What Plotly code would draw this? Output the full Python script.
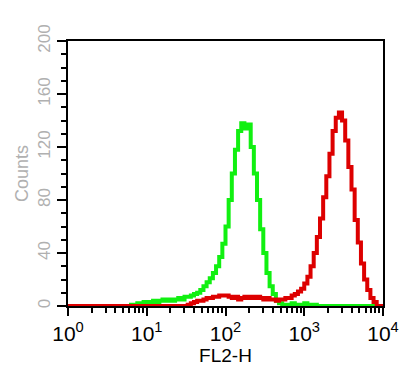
import plotly.graph_objects as go

# channel positions: 25 channels per decade over 4 decades (log10 units)
channel_log = [i / 25 for i in range(101)]

green_counts = [0]*20 + [
    1, 1, 2, 2, 3, 3, 3, 4, 3, 4,
    5, 4, 5, 4, 5, 6, 5, 7, 7, 8,
    9, 10, 12, 15, 18, 21, 25, 30, 37, 47,
    60, 80, 100, 118, 132, 138, 134, 137, 120, 100,
    80, 58, 40, 25, 15, 9, 4, 2, 1, 1,
    1, 2, 1, 1, 1, 2, 1, 1, 1] + [0]*22

red_counts = [0]*38 + [
    1, 2, 3, 4, 4, 5, 6, 6, 7, 7,
    8, 8, 8, 7, 6, 7, 5, 6, 7, 6,
    7, 6, 7, 6, 5, 6, 5, 5, 4, 5,
    5, 6, 6, 8, 9, 11, 13, 17, 22, 30,
    40, 52, 66, 82, 98, 115, 132, 142, 146, 140,
    125, 105, 88, 65, 48, 32, 20, 12, 6, 3,
    0, 0, 0]

x_tick_vals = [1, 10, 100, 1000, 10000]
x_tick_text = ["10<sup>0</sup>", "10<sup>1</sup>", "10<sup>2</sup>", "10<sup>3</sup>", "10<sup>4</sup>"]
y_tick_vals = [0, 40, 80, 120, 160, 200]

x_vals = [10 ** u for u in channel_log]

fig = go.Figure()
fig.add_trace(go.Scatter(x=x_vals, y=green_counts, mode="lines", line_shape="hv",
                         line=dict(color="#11f011", width=4), showlegend=False))
fig.add_trace(go.Scatter(x=x_vals, y=red_counts, mode="lines", line_shape="hv",
                         line=dict(color="#dd0000", width=4), showlegend=False))

# page body adds an 8px offset; margins compensate for it
fig.update_layout(
    width=418, height=383,
    margin=dict(l=60, r=43, t=33, b=85, autoexpand=False),
    paper_bgcolor="white", plot_bgcolor="white",
    font=dict(family="Arial, Liberation Sans, sans-serif", color="black"),
)
fig.update_xaxes(
    type="log", range=[0, 4], automargin=False,
    tickvals=x_tick_vals, ticktext=x_tick_text,
    tickfont=dict(size=21, color="black"),
    ticks="outside", ticklen=8, tickwidth=2, tickcolor="black",
    minor=dict(ticks="outside", ticklen=5, tickwidth=2, tickcolor="black", dtick="D1"),
    showline=True, linecolor="black", linewidth=2, mirror=True,
    showgrid=False, zeroline=False,
    title=dict(text="FL2-H", font=dict(size=19, color="black"), standoff=2),
)
fig.update_yaxes(
    range=[0, 200], automargin=False,
    tickvals=y_tick_vals,
    tickangle=-90,
    tickfont=dict(size=17, color="#b0b0b0"),
    ticks="outside", ticklen=9, tickwidth=2, tickcolor="black",
    minor=dict(ticks="outside", ticklen=5, tickwidth=2, tickcolor="black", dtick=10),
    showline=True, linecolor="black", linewidth=2, mirror=True,
    showgrid=False, zeroline=False,
    title=dict(text="Counts", font=dict(size=18, color="#b0b0b0"), standoff=2),
)

fig.write_html("out.html")
